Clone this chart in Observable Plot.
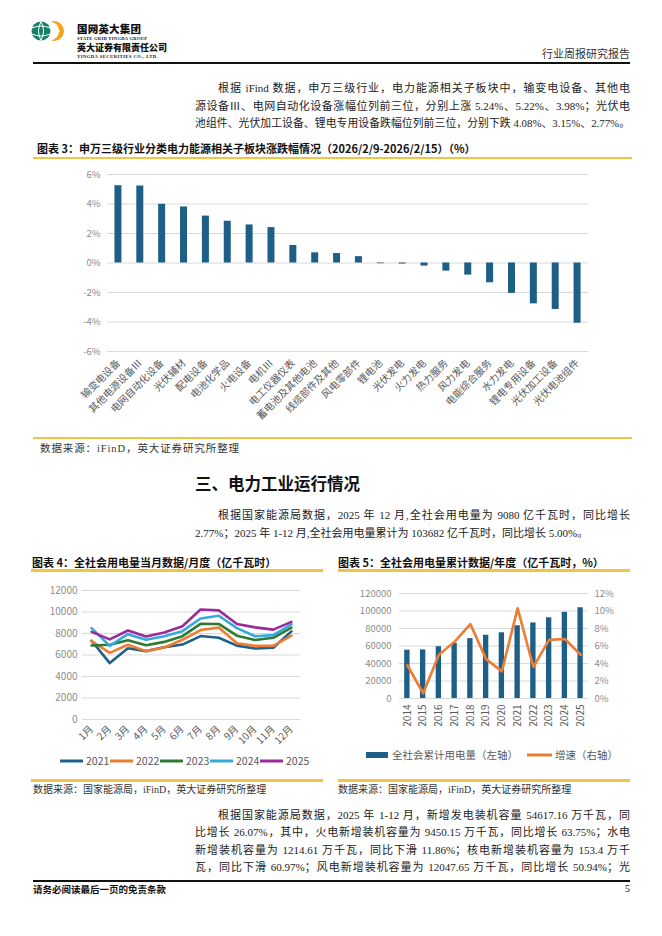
<!DOCTYPE html>
<html><head><meta charset="utf-8">
<script src="https://cdn.jsdelivr.net/npm/d3@7"></script>
<script src="https://cdn.jsdelivr.net/npm/@observablehq/plot@0.6"></script>
<style>
html,body{margin:0;padding:0;background:#fff;}
#page{position:relative;width:662px;height:936px;overflow:hidden;background:#fff;font-family:"Liberation Serif","Noto Sans CJK SC",serif;color:#222;}
.abs{position:absolute;white-space:nowrap;}
.line{position:absolute;white-space:nowrap;font-size:11px;line-height:17px;text-align:justify;text-align-last:justify;}
.title{position:absolute;font-family:"Noto Sans CJK SC",sans-serif;font-weight:bold;font-size:11px;line-height:14px;white-space:nowrap;color:#111;}
.ybar{position:absolute;height:2.5px;background:#F5C342;}
.src{position:absolute;font-size:10px;line-height:13px;white-space:nowrap;color:#333;}
.chart{position:absolute;}
.legend{position:absolute;font-family:"Noto Sans CJK SC",sans-serif;font-size:10.5px;color:#595959;white-space:nowrap;display:flex;align-items:center;}
.legend span.item{display:inline-flex;align-items:center;}
</style>
</head><body>
<div id="page">
  <!-- header -->
  <svg style="position:absolute;left:28px;top:18px" width="44" height="28" viewBox="0 0 44 28">
    <circle cx="26" cy="13" r="10" fill="#F2A516"/>
    <circle cx="21.5" cy="13" r="9.6" fill="#fff"/>
    <circle cx="13" cy="13" r="9.5" fill="#14806A"/>
    <path d="M4 10 Q13 6 22 10 M4 16 Q13 20 22 16 M13 3.5 Q8 13 13 22.5 M13 3.5 Q18 13 13 22.5" stroke="#fff" stroke-width="1" fill="none"/>
    <path d="M27 9 L31 13 L27 17" stroke="#fff" stroke-width="1.5" fill="none"/>
  </svg>
  <div class="abs" style="left:77px;top:22px;font-family:'Noto Sans CJK SC';font-weight:900;font-size:10.5px;line-height:13px;color:#111;letter-spacing:0.2px">国网英大集团</div>
  <div class="abs" style="left:77px;top:36px;font-family:'Liberation Serif';font-weight:bold;font-size:4.6px;line-height:6px;color:#111;letter-spacing:0.25px">STATE GRID YINGDA GROUP</div>
  <div class="abs" style="left:77px;top:42px;font-family:'Noto Sans CJK SC';font-weight:900;font-size:9px;line-height:11px;color:#111">英大证券有限责任公司</div>
  <div class="abs" style="left:77px;top:54px;font-family:'Liberation Serif';font-weight:bold;font-size:4.6px;line-height:6px;color:#111;letter-spacing:0.45px">YINGDA SECURITIES CO., LTD.</div>
  <div class="abs" style="right:32px;top:46px;font-family:'Noto Sans CJK SC';font-size:11px;line-height:14px;color:#333">行业周报研究报告</div>
  <div class="abs" style="left:33px;top:62px;width:597px;height:1.5px;background:#111"></div>

  <!-- paragraph 1 -->
  <div class="line" style="left:218px;top:80px;width:412px">根据 iFind 数据，申万三级行业，电力能源相关子板块中，输变电设备、其他电</div>
  <div class="line" style="left:195px;top:98px;width:435px">源设备Ⅲ、电网自动化设备涨幅位列前三位，分别上涨 5.24%、5.22%、3.98%；光伏电</div>
  <div class="line" style="left:195px;top:115px;width:435px;font-size:10.8px">池组件、光伏加工设备、锂电专用设备跌幅位列前三位，分别下跌 4.08%、3.15%、2.77%。</div>

  <!-- chart 3 -->
  <div class="title" style="left:37px;top:141px">图表 3：申万三级行业分类电力能源相关子板块涨跌幅情况（2026/2/9-2026/2/15）（%）</div>
  <div class="ybar" style="left:33px;top:156.5px;width:599px"></div>
  <div class="chart" id="c3" style="left:37px;top:160px"></div>
  <div class="ybar" style="left:33px;top:436.5px;width:599px"></div>
  <div class="src" style="left:40px;top:442px;font-size:10.5px;letter-spacing:0.9px">数据来源：iFinD，英大证券研究所整理</div>

  <!-- section -->
  <div class="abs" style="left:195px;top:473px;font-family:'Noto Sans CJK SC';font-weight:bold;font-size:16.5px;line-height:20px;color:#111">三、电力工业运行情况</div>
  <div class="line" style="left:218px;top:507px;width:412px">根据国家能源局数据，2025 年 12 月,全社会用电量为 9080 亿千瓦时，同比增长</div>
  <div class="line" style="left:195px;top:525px;text-align:left;text-align-last:left">2.77%；2025 年 1-12 月,全社会用电量累计为 103682 亿千瓦时，同比增长 5.00%。</div>

  <!-- chart 4 -->
  <div class="title" style="left:32px;top:555px">图表 4：全社会用电量当月数据/月度（亿千瓦时）</div>
  <div class="ybar" style="left:31px;top:569px;width:292px"></div>
  <div class="chart" id="c4" style="left:30px;top:580px"></div>
  <div class="legend" id="lg4" style="left:60px;top:753px"></div>
  <div class="ybar" style="left:31px;top:779px;width:292px"></div>
  <div class="src" style="left:33px;top:783px">数据来源：国家能源局，iFinD，英大证券研究所整理</div>

  <!-- chart 5 -->
  <div class="title" style="left:338px;top:555px">图表 5：全社会用电量累计数据/年度（亿千瓦时，%）</div>
  <div class="ybar" style="left:338px;top:569px;width:292px"></div>
  <div class="chart" id="c5" style="left:338px;top:580px"></div>
  <div class="legend" id="lg5" style="left:366px;top:747px"></div>
  <div class="ybar" style="left:338px;top:779px;width:292px"></div>
  <div class="src" style="left:338px;top:783px">数据来源：国家能源局，iFinD，英大证券研究所整理</div>

  <!-- paragraph 3 -->
  <div class="line" style="left:218px;top:807px;width:412px">根据国家能源局数据，2025 年 1-12 月，新增发电装机容量 54617.16 万千瓦，同</div>
  <div class="line" style="left:195px;top:824px;width:435px">比增长 26.07%，其中，火电新增装机容量为 9450.15 万千瓦，同比增长 63.75%；水电</div>
  <div class="line" style="left:195px;top:842px;width:435px">新增装机容量为 1214.61 万千瓦，同比下滑 11.86%；核电新增装机容量为 153.4 万千</div>
  <div class="line" style="left:195px;top:859px;width:435px">瓦，同比下滑 60.97%；风电新增装机容量为 12047.65 万千瓦，同比增长 50.94%；光</div>

  <!-- footer -->
  <div class="abs" style="left:33px;top:880px;width:597px;height:1.5px;background:#111"></div>
  <div class="abs" style="left:33px;top:883px;font-family:'Noto Sans CJK SC';font-weight:bold;font-size:9.5px;line-height:12px;color:#111">请务必阅读最后一页的免责条款</div>
  <div class="abs" style="right:32px;top:883px;font-family:'Liberation Serif';font-size:10px;line-height:12px;color:#111">5</div>
</div>
<script>
// ---------- chart 3 data ----------
const cats3 = ["输变电设备","其他电源设备Ⅲ","电网自动化设备","光伏辅材","配电设备","电池化学品","火电设备","电机Ⅲ","电工仪器仪表","蓄电池及其他电池","线缆部件及其他","风电零部件","锂电池","光伏发电","火力发电","热力服务","风力发电","电能综合服务","水力发电","锂电专用设备","光伏加工设备","光伏电池组件"];
const vals3 = [5.24,5.22,3.98,3.80,3.18,2.83,2.58,2.40,1.19,0.69,0.64,0.43,-0.05,-0.07,-0.21,-0.55,-0.82,-1.34,-2.06,-2.77,-3.15,-4.08];
const ticks3 = [-6,-4,-2,0,2,4,6];

// ---------- chart 4 data ----------
const months4 = ["1月","2月","3月","4月","5月","6月","7月","8月","9月","10月","11月","12月"];
const years4 = ["2021","2022","2023","2024","2025"];
const colors4 = ["#1f5f8b","#ed7d31","#2e7a33","#35a8dc","#9a2b9a"];
const use2021 = [7330,5250,6630,6360,6720,6970,7760,7610,6870,6600,6680,8200];
const use2022 = [7300,6200,6950,6360,6700,7420,8320,8550,7100,6850,6850,7800];
const use2023 = [6880,6950,7370,6900,7220,7750,8900,8890,7800,7400,7600,8550];
const use2024 = [8500,6850,7940,7410,7750,8220,9400,9650,8500,7750,7850,8850];
const use2025 = [8150,7450,8280,7720,8100,8670,10230,10150,8890,8570,8360,9080];
const ticks4 = [0,2000,4000,6000,8000,10000,12000];

// ---------- chart 5 data ----------
const years5 = ["2014","2015","2016","2017","2018","2019","2020","2021","2022","2023","2024","2025"];
const total5 = [55233,55500,59198,63077,68449,72255,75110,83128,86372,92241,98521,103682];
const growth5 = [3.8,0.6,5.0,6.5,8.5,4.5,3.1,10.3,3.6,6.7,6.8,5.0];
const ticks5L = [0,20000,40000,60000,80000,100000,120000];
const ticks5R = [0,2,4,6,8,10,12];
const legend5 = ["全社会累计用电量（左轴）","增速（右轴）"];

const FONT = "'Noto Sans CJK SC', sans-serif";
const GRID = "#d9d9d9";
const TICKC = "#8c8c8c";
const LABC = "#595959";
const BAR = "#1d5f86";

// ---------- chart 3 ----------
const data3 = cats3.map((c, i) => ({cat: c, v: vals3[i]}));
document.getElementById("c3").append(Plot.plot({
  width: 595, height: 278,
  marginTop: 14, marginBottom: 87, marginLeft: 70, marginRight: 44,
  style: {fontFamily: FONT, background: "#fff"},
  x: {domain: cats3, paddingInner: 0.68, paddingOuter: 0.34, round: false},
  y: {domain: [-6, 6]},
  marks: [
    Plot.gridY(ticks3, {stroke: GRID, strokeOpacity: 1, strokeWidth: 1}),
    Plot.axisY(ticks3, {tickSize: 0, tickPadding: 7, tickFormat: d => d + "%", fill: TICKC, fontSize: 9.5, label: null}),
    Plot.barY(data3, {x: "cat", y: "v", fill: BAR}),
    Plot.axisX({tickSize: 0, tickPadding: 10, tickRotate: -45, fill: LABC, fontSize: 10, label: null})
  ]
}));

// ---------- chart 4 ----------
const series4 = [use2021, use2022, use2023, use2024, use2025];
const data4 = years4.flatMap((y, i) => series4[i].map((v, j) => ({year: y, month: months4[j], v})));
document.getElementById("c4").append(Plot.plot({
  width: 293, height: 170,
  marginTop: 10, marginBottom: 31, marginLeft: 52, marginRight: 23,
  style: {fontFamily: FONT, background: "#fff"},
  x: {type: "point", domain: months4, padding: 0.5, round: false},
  y: {domain: [0, 12000]},
  color: {domain: years4, range: colors4},
  marks: [
    Plot.gridY(ticks4, {stroke: GRID, strokeOpacity: 1}),
    Plot.axisY(ticks4, {tickSize: 0, tickPadding: 5, fill: TICKC, fontSize: 10, tickFormat: d => String(d), label: null}),
    Plot.axisX({tickSize: 0, tickPadding: 8, tickRotate: -45, fill: LABC, fontSize: 10, label: null}),
    Plot.lineY(data4, {x: "month", y: "v", z: "year", stroke: "year", strokeWidth: 2.6})
  ]
}));
const lg4 = document.getElementById("lg4");
years4.forEach((y, i) => {
  const s = document.createElement("span");
  s.className = "item";
  s.style.width = "50px";
  s.innerHTML = `<svg width="23" height="6" style="margin-right:3px"><line x1="0" x2="23" y1="3" y2="3" stroke="${colors4[i]}" stroke-width="3"/></svg>${y}`;
  lg4.append(s);
});

// ---------- chart 5 ----------
const K = 10000;
const data5 = years5.map((y, i) => ({year: y, total: total5[i], g: growth5[i]}));
document.getElementById("c5").append(Plot.plot({
  width: 300, height: 160,
  marginTop: 13, marginBottom: 42, marginLeft: 61, marginRight: 50,
  style: {fontFamily: FONT, background: "#fff"},
  x: {domain: years5, paddingInner: 0.66, paddingOuter: 0.33, round: false},
  y: {domain: [0, 120000]},
  marks: [
    Plot.gridY(ticks5L, {stroke: GRID, strokeOpacity: 1}),
    Plot.axisY(ticks5L, {tickSize: 0, tickPadding: 8, fill: TICKC, fontSize: 9.5, tickFormat: d => String(d), label: null}),
    Plot.axisY(ticks5R.map(g => g * K), {anchor: "right", tickSize: 0, tickPadding: 6, fill: TICKC, fontSize: 9.5, tickFormat: d => (d / K) + "%", label: null}),
    Plot.barY(data5, {x: "year", y: "total", fill: BAR}),
    Plot.lineY(data5, {x: "year", y: d => d.g * K, stroke: "#ed7d31", strokeWidth: 2.6}),
    Plot.axisX({tickSize: 0, tickPadding: 6, tickRotate: -90, fill: LABC, fontSize: 10, label: null})
  ]
}));
const lg5 = document.getElementById("lg5");
lg5.innerHTML =
  `<span class="item"><svg width="22" height="6" style="margin-right:4px"><rect x="0" y="0" width="22" height="6" fill="${BAR}"/></svg>${legend5[0]}</span>` +
  `<span class="item" style="margin-left:9px"><svg width="25" height="6" style="margin-right:3px"><line x1="0" x2="25" y1="3" y2="3" stroke="#ed7d31" stroke-width="3"/></svg>${legend5[1]}</span>`;
</script>
</body></html>
